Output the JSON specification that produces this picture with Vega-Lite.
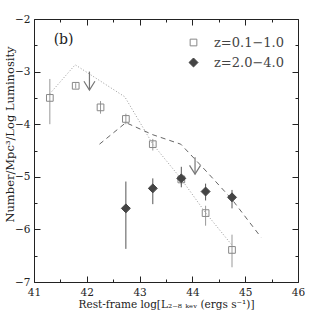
{
  "$schema": "https://vega.github.io/schema/vega-lite/v6.json",
  "width": 264,
  "height": 263,
  "autosize": {"type": "none"},
  "padding": {"left": 34, "top": 19, "right": 18, "bottom": 34},
  "background": "white",
  "config": {
    "view": {"stroke": "#222", "strokeWidth": 1},
    "font": "DejaVu Serif"
  },
  "datasets": {
    "points": [
      {"L": 41.3, "n": -3.5, "lo": -4.0, "hi": -3.14, "series": "z=0.1−1.0"},
      {"L": 41.79, "n": -3.27, "lo": -3.32, "hi": -3.22, "series": "z=0.1−1.0"},
      {"L": 42.26, "n": -3.68, "lo": -3.8, "hi": -3.56, "series": "z=0.1−1.0"},
      {"L": 42.74, "n": -3.9, "lo": -4.0, "hi": -3.8, "series": "z=0.1−1.0"},
      {"L": 43.25, "n": -4.38, "lo": -4.5, "hi": -4.28, "series": "z=0.1−1.0"},
      {"L": 43.79, "n": -5.05, "lo": -5.15, "hi": -4.95, "series": "z=0.1−1.0"},
      {"L": 44.25, "n": -5.69, "lo": -5.93, "hi": -5.55, "series": "z=0.1−1.0"},
      {"L": 44.75, "n": -6.39, "lo": -6.72, "hi": -6.1, "series": "z=0.1−1.0"},
      {"L": 42.74, "n": -5.6, "lo": -6.37, "hi": -5.09, "series": "z=2.0−4.0"},
      {"L": 43.25, "n": -5.22, "lo": -5.52, "hi": -5.03, "series": "z=2.0−4.0"},
      {"L": 43.79, "n": -5.03, "lo": -5.2, "hi": -4.81, "series": "z=2.0−4.0"},
      {"L": 44.25, "n": -5.28, "lo": -5.45, "hi": -5.13, "series": "z=2.0−4.0"},
      {"L": 44.75, "n": -5.39, "lo": -5.6, "hi": -5.25, "series": "z=2.0−4.0"}
    ],
    "dotted": [
      {"L": 41.3, "n": -3.42},
      {"L": 41.78, "n": -2.87},
      {"L": 42.72, "n": -3.48},
      {"L": 43.25, "n": -4.38},
      {"L": 43.78, "n": -5.03},
      {"L": 44.24, "n": -5.67},
      {"L": 44.75, "n": -6.3}
    ],
    "dashed": [
      {"L": 42.24, "n": -4.38},
      {"L": 42.74, "n": -3.97},
      {"L": 43.25, "n": -4.2},
      {"L": 43.78, "n": -4.38},
      {"L": 44.24, "n": -4.87},
      {"L": 44.75, "n": -5.43},
      {"L": 45.3, "n": -6.15}
    ],
    "limits": [
      {"L": 42.05, "top": -3.0, "tip": -3.35},
      {"L": 44.05, "top": -4.63, "tip": -4.95}
    ],
    "label": [
      {"L": 41.56, "n": -2.4, "text": "(b)"}
    ]
  },
  "resolve": {"axis": {"x": "independent", "y": "independent"}},
  "layer": [
    {
      "data": {"name": "points"},
      "transform": [{"filter": "datum.series === 'z=0.1−1.0'"}],
      "mark": {"type": "rule", "strokeWidth": 1, "color": "#999999"},
      "encoding": {
        "x": {
          "field": "L", "type": "quantitative",
          "scale": {"domain": [41, 46], "nice": false, "zero": false},
          "axis": {
            "orient": "bottom",
            "title": "Rest-frame log[L₂₋₈ ₖₑᵥ (ergs s⁻¹)]",
            "values": [41, 41.5, 42, 42.5, 43, 43.5, 44, 44.5, 45, 45.5, 46],
            "labelExpr": "datum.value % 1 === 0 ? format(datum.value, 'd') : ''",
            "grid": false, "domain": false,
            "tickColor": "#222",
            "tickSize": {"condition": {"test": "datum.value % 1 === 0", "value": -6}, "value": -3},
            "labelPadding": 11,
            "labelFont": "DejaVu Serif", "labelFontSize": 10.5, "labelColor": "#222",
            "labelFlush": false, "labelOverlap": false,
            "titleFont": "DejaVu Serif", "titleFontSize": 10.5, "titleFontWeight": "normal", "titleColor": "#222",
            "titleY": 22, "titleBaseline": "middle"
          }
        },
        "y": {
          "field": "lo", "type": "quantitative",
          "scale": {"domain": [-7, -2], "nice": false, "zero": false},
          "axis": {
            "orient": "left",
            "title": "Number/Mpc³/Log Luminosity",
            "values": [-7, -6.5, -6, -5.5, -5, -4.5, -4, -3.5, -3, -2.5, -2],
            "labelExpr": "datum.value % 1 === 0 ? format(datum.value, 'd') : ''",
            "grid": false, "domain": false,
            "tickColor": "#222",
            "tickSize": {"condition": {"test": "datum.value % 1 === 0", "value": -6}, "value": -3},
            "labelPadding": 10,
            "labelFont": "DejaVu Serif", "labelFontSize": 10.5, "labelColor": "#222",
            "labelFlush": false, "labelOverlap": false,
            "titleFont": "DejaVu Serif", "titleFontSize": 11.5, "titleFontWeight": "normal", "titleColor": "#222",
            "titleX": -24, "titleY": 115, "titleBaseline": "middle", "titleAngle": -90
          }
        },
        "y2": {"field": "hi"}
      }
    },
    {
      "data": {"name": "points"},
      "transform": [{"filter": "datum.series === 'z=2.0−4.0'"}],
      "mark": {"type": "rule", "strokeWidth": 1, "color": "#555555"},
      "encoding": {
        "x": {"field": "L", "type": "quantitative", "axis": null},
        "y": {"field": "lo", "type": "quantitative", "axis": null},
        "y2": {"field": "hi"}
      }
    },
    {
      "data": {"name": "dotted"},
      "mark": {"type": "line", "color": "#999", "strokeWidth": 1, "strokeDash": [1, 2]},
      "encoding": {
        "x": {"field": "L", "type": "quantitative", "axis": null},
        "y": {"field": "n", "type": "quantitative", "axis": null}
      }
    },
    {
      "data": {"name": "dashed"},
      "mark": {"type": "line", "color": "#666", "strokeWidth": 1, "strokeDash": [5, 4]},
      "encoding": {
        "x": {"field": "L", "type": "quantitative", "axis": null},
        "y": {"field": "n", "type": "quantitative", "axis": null}
      }
    },
    {
      "data": {"name": "limits"},
      "mark": {"type": "rule", "color": "#777", "strokeWidth": 1.2},
      "encoding": {
        "x": {"field": "L", "type": "quantitative", "axis": null},
        "y": {"field": "top", "type": "quantitative", "axis": null},
        "y2": {"field": "tip"}
      }
    },
    {
      "data": {"name": "limits"},
      "mark": {"type": "point", "shape": "M-1,-1.6L0,0L1,-1.6", "size": 121, "filled": false, "color": "#777", "strokeWidth": 1.2, "opacity": 1},
      "encoding": {
        "x": {"field": "L", "type": "quantitative", "axis": null},
        "y": {"field": "tip", "type": "quantitative", "axis": null}
      }
    },
    {
      "data": {"name": "points"},
      "mark": {"type": "point", "strokeWidth": 1, "opacity": 1},
      "encoding": {
        "x": {"field": "L", "type": "quantitative", "axis": null},
        "y": {"field": "n", "type": "quantitative", "axis": null},
        "shape": {
          "field": "series", "type": "nominal",
          "scale": {"domain": ["z=0.1−1.0", "z=2.0−4.0"], "range": ["square", "diamond"]},
          "legend": {
            "title": null, "orient": "none", "legendX": 153, "legendY": 17,
            "padding": 0, "labelFont": "DejaVu Serif", "labelFontSize": 13,
            "labelColor": "#444", "labelOffset": 14, "rowPadding": 6, "symbolStrokeWidth": 1
          }
        },
        "size": {
          "field": "series", "type": "nominal",
          "scale": {"domain": ["z=0.1−1.0", "z=2.0−4.0"], "range": [45, 80]},
          "legend": {
            "title": null, "orient": "none", "legendX": 153, "legendY": 17,
            "padding": 0, "labelFont": "DejaVu Serif", "labelFontSize": 13,
            "labelColor": "#444", "labelOffset": 14, "rowPadding": 6, "symbolStrokeWidth": 1
          }
        },
        "fill": {
          "field": "series", "type": "nominal",
          "scale": {"domain": ["z=0.1−1.0", "z=2.0−4.0"], "range": ["rgba(255,255,255,0)", "#444444"]},
          "legend": {
            "title": null, "orient": "none", "legendX": 153, "legendY": 17,
            "padding": 0, "labelFont": "DejaVu Serif", "labelFontSize": 13,
            "labelColor": "#444", "labelOffset": 14, "rowPadding": 6, "symbolStrokeWidth": 1
          }
        },
        "stroke": {
          "field": "series", "type": "nominal",
          "scale": {"domain": ["z=0.1−1.0", "z=2.0−4.0"], "range": ["#888888", "#444444"]},
          "legend": {
            "title": null, "orient": "none", "legendX": 153, "legendY": 17,
            "padding": 0, "labelFont": "DejaVu Serif", "labelFontSize": 13,
            "labelColor": "#444", "labelOffset": 14, "rowPadding": 6, "symbolStrokeWidth": 1
          }
        }
      }
    },
    {
      "data": {"name": "label"},
      "mark": {"type": "text", "font": "DejaVu Serif", "fontSize": 14, "color": "#222", "align": "center", "baseline": "middle"},
      "encoding": {
        "x": {"field": "L", "type": "quantitative", "axis": null},
        "y": {"field": "n", "type": "quantitative", "axis": null},
        "text": {"field": "text"}
      }
    },
    {
      "data": {"name": "label"},
      "mark": {"type": "point", "opacity": 0},
      "encoding": {
        "x": {
          "field": "L", "type": "quantitative",
          "axis": {
            "orient": "top", "title": null, "labels": false, "grid": false, "domain": false,
            "values": [41, 41.5, 42, 42.5, 43, 43.5, 44, 44.5, 45, 45.5, 46],
            "tickColor": "#222",
            "tickSize": {"condition": {"test": "datum.value % 1 === 0", "value": -6}, "value": -3}
          }
        },
        "y": {
          "field": "n", "type": "quantitative",
          "axis": {
            "orient": "right", "title": null, "labels": false, "grid": false, "domain": false,
            "values": [-7, -6.5, -6, -5.5, -5, -4.5, -4, -3.5, -3, -2.5, -2],
            "tickColor": "#222",
            "tickSize": {"condition": {"test": "datum.value % 1 === 0", "value": -6}, "value": -3}
          }
        }
      }
    }
  ]
}
